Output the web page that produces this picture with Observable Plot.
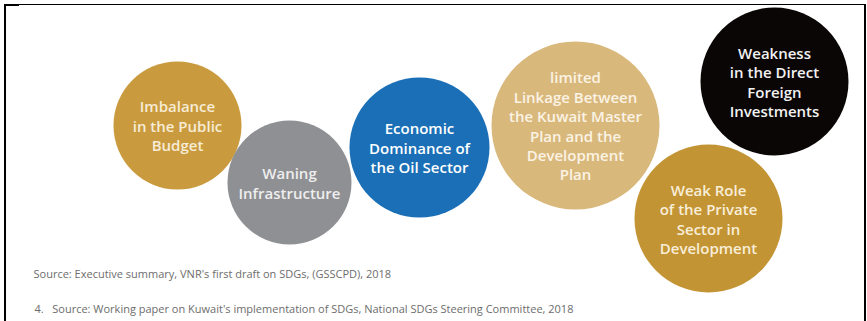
<!DOCTYPE html>
<html>
<head>
<meta charset="utf-8">
<script src="https://cdn.jsdelivr.net/npm/d3@7"></script>
<script src="https://cdn.jsdelivr.net/npm/@observablehq/plot@0.6"></script>
<style>
  html, body { margin: 0; padding: 0; background: #fff; }
  #wrap { position: relative; width: 867px; height: 321px; overflow: hidden; }
  #frame { position: absolute; left: 4px; top: 4px; width: 858px; height: 330px;
           border-left: 2px solid #000; border-top: 1px solid #000; border-right: 2px solid #000;
           pointer-events: none; }
  #frame::before { content: ""; position: absolute; left: -2px; top: -1px; width: 15px; height: 2px; background: #000; }
</style>
</head>
<body>
<div id="wrap"><div id="frame"></div></div>
<script>
// Challenges (bubble labels)
const labels = [
  "Imbalance\nin the Public\nBudget",
  "Waning\nInfrastructure",
  "Economic\nDominance of\nthe Oil Sector",
  "limited\nLinkage Between\nthe Kuwait Master\nPlan and the\nDevelopment\nPlan",
  "Weakness\nin the Direct\nForeign\nInvestments",
  "Weak Role\nof the Private\nSector in\nDevelopment"
];
// bubble centres (diagram units) and radii
const xValues = [177, 289, 419, 575, 774, 708];
const yValues = [125, 182, 147, 125, 81, 218];
const sizes = [64, 62, 70, 84, 74, 74];
const fills = ["#c99b3e", "#8f9093", "#1a6fb6", "#d9b87c", "#0b0606", "#c39434"];
const textFills = ["#f7ecd6", "#eeeeee", "#ffffff", "#fbf3e4", "#f2f2f2", "#f8eed8"];
const sources = [
  "Source: Executive summary, VNR's first draft on SDGs, (GSSCPD), 2018",
  "4.   Source: Working paper on Kuwait's implementation of SDGs, National SDGs Steering Committee, 2018"
];
const sourceX = [33, 34];
const sourceY = [274, 309];

const bubbles = labels.map((label, i) => ({label, x: xValues[i], y: yValues[i], r: sizes[i], fill: fills[i], tf: textFills[i]}));
const notes = sources.map((t, i) => ({t, x: sourceX[i], y: sourceY[i]}));

const chart = Plot.plot({
  width: 867,
  height: 321,
  margin: 0,
  x: {domain: [0, 867], axis: null},
  y: {domain: [0, 321], reverse: true, axis: null},
  r: {type: "identity"},
  style: {background: "transparent"},
  marks: [
    Plot.dot(bubbles, {x: "x", y: "y", r: "r", fill: "fill", stroke: "none"}),
    Plot.text(bubbles, {x: "x", y: "y", text: "label", fill: "tf", fontSize: 15, fontWeight: 600,
      fontFamily: "'Open Sans', sans-serif", lineHeight: 1.3, textAnchor: "middle", lineAnchor: "middle",
      style: "letter-spacing:-0.4px"}),
    Plot.text(notes, {x: "x", y: "y", text: "t", textAnchor: "start", fill: "#6d6d6d", fontSize: 11,
      fontFamily: "'Liberation Sans Narrow', 'Open Sans', sans-serif"})
  ]
});
document.getElementById("wrap").insertBefore(chart, document.getElementById("frame"));
</script>
</body>
</html>
